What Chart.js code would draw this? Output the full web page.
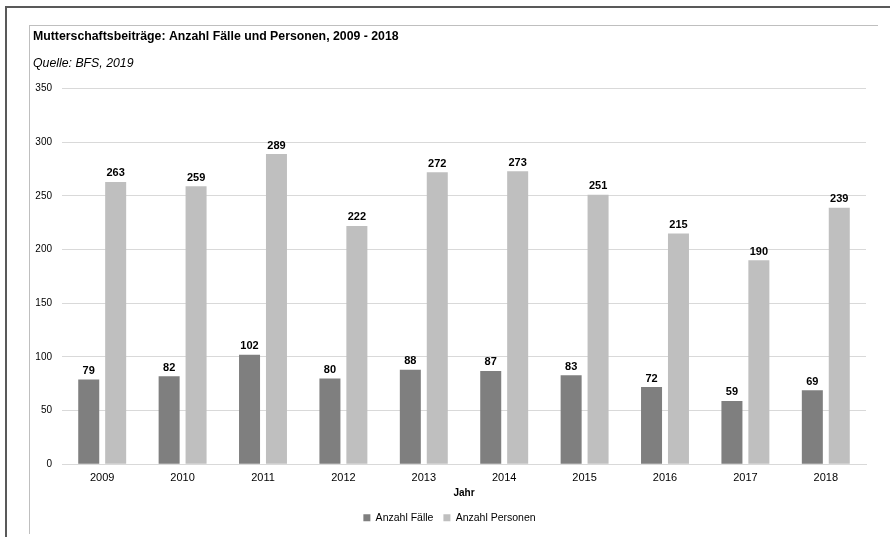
<!DOCTYPE html>
<html>
<head>
<meta charset="utf-8">
<script src="https://cdn.jsdelivr.net/npm/chart.js@4"></script>
<style>
  body { margin: 0; background: #fff; }
  #outer { position: absolute; left: 5px; top: 6px; width: 900px; height: 540px;
           border-top: 2px solid #595959; border-left: 2px solid #595959; }
  #inner { position: absolute; left: 29px; top: 25px; width: 848px; height: 508px;
           border-top: 1px solid #bfbfbf; border-left: 1px solid #bfbfbf; }
  #inner canvas { position: absolute; left: 0; top: 0; }
</style>
</head>
<body>
<div id="outer"></div>
<div id="inner"><canvas id="chart" width="848" height="508"></canvas></div>
<script>
'use strict';
const years = ['2009', '2010', '2011', '2012', '2013', '2014', '2015', '2016', '2017', '2018'];
const faelle = [79, 82, 102, 80, 88, 87, 83, 72, 59, 69];
const personen = [263, 259, 289, 222, 272, 273, 251, 215, 190, 239];

// value labels on top of bars
const barLabels = {
  id: 'barLabels',
  afterDatasetsDraw(chart) {
    const ctx = chart.ctx;
    ctx.save();
    ctx.font = 'bold 11px "Liberation Sans", Arial, sans-serif';
    ctx.fillStyle = '#000';
    ctx.textAlign = 'center';
    ctx.textBaseline = 'bottom';
    chart.data.datasets.forEach((ds, i) => {
      chart.getDatasetMeta(i).data.forEach((bar, j) => {
        ctx.fillText(ds.data[j], bar.x, bar.y - 3);
      });
    });
    ctx.restore();
  }
};

Chart.defaults.font.family = '"Liberation Sans", Arial, sans-serif';
Chart.defaults.color = '#000';

let ctx = document.getElementById('chart').getContext('2d');
let myChart = new Chart(ctx, {
  type: 'bar',
  data: {
    labels: years,
    datasets: [{
      label: 'Anzahl Fälle',
      data: faelle,
      backgroundColor: '#7f7f7f'
    }, {
      label: 'Anzahl Personen',
      data: personen,
      backgroundColor: '#bfbfbf'
    }]
  },
  options: {
    responsive: false,
    animation: false,
    layout: { padding: { left: 3, right: 12, top: 0, bottom: 1 } },
    datasets: { bar: { categoryPercentage: 0.67, barPercentage: 0.78 } },
    plugins: {
      title: {
        display: true, align: 'start',
        text: 'Mutterschaftsbeiträge: Anzahl Fälle und Personen, 2009 - 2018',
        font: { size: 12.3, weight: 'bold' },
        padding: { top: 3, bottom: 12 }
      },
      subtitle: {
        display: true, align: 'start',
        text: 'Quelle: BFS, 2019',
        font: { size: 12.3, style: 'italic' },
        padding: { top: 0, bottom: 18 }
      },
      legend: {
        position: 'bottom',
        labels: { boxWidth: 7, boxHeight: 7, font: { size: 10.5 }, padding: 10 }
      },
      tooltip: { enabled: false }
    },
    scales: {
      x: {
        grid: { display: false, drawTicks: false },
        border: { color: '#d9d9d9' },
        ticks: { font: { size: 11 }, padding: 7 },
        title: { display: true, text: 'Jahr', font: { size: 10, weight: 'bold' }, padding: { top: -4, bottom: 3 } }
      },
      y: {
        min: 0, max: 350,
        grid: { color: '#d9d9d9', drawTicks: false },
        border: { display: false },
        ticks: { stepSize: 50, font: { size: 10 }, padding: 10 },
        afterFit(scale) { scale.width = 29; }
      }
    }
  },
  plugins: [barLabels]
});
</script>
</body>
</html>
